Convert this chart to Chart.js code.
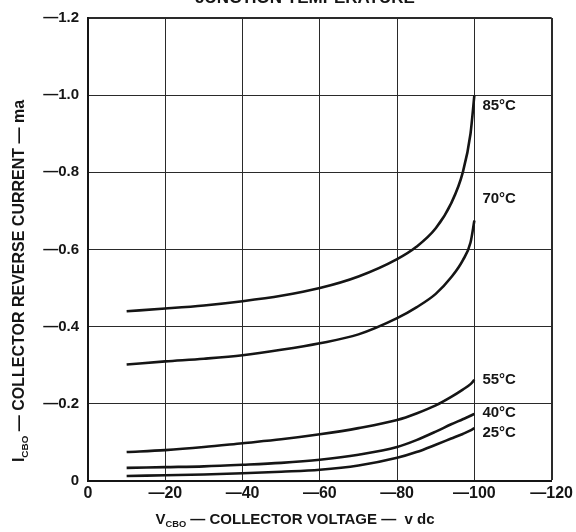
<!DOCTYPE html>
<html>
<head>
<meta charset="utf-8">
<script src="https://cdn.jsdelivr.net/npm/chart.js@4/dist/chart.umd.min.js"></script>
<style>
  html, body { margin: 0; padding: 0; background: #fff; }
  #wrap { width: 576px; height: 532px; }
</style>
</head>
<body>
<div id="wrap"><canvas id="chart" width="576" height="532"></canvas></div>
<script>
// collector voltage, v dc
const voltages = [-10, -20, -30, -40, -50, -60, -70, -80, -85, -90, -94, -97, -99, -100];

// collector reverse current, ma, one list per junction temperature
const temps = ['85°C', '70°C', '55°C', '40°C', '25°C'];
const icbo85 = [-0.44, -0.447, -0.455, -0.466, -0.48, -0.50, -0.53, -0.575, -0.607, -0.655, -0.72, -0.80, -0.90, -1.0];
const icbo70 = [-0.302, -0.31, -0.317, -0.326, -0.34, -0.357, -0.38, -0.422, -0.45, -0.485, -0.528, -0.572, -0.618, -0.675];
const icbo55 = [-0.075, -0.08, -0.088, -0.098, -0.108, -0.121, -0.137, -0.158, -0.175, -0.196, -0.218, -0.237, -0.251, -0.262];
const icbo40 = [-0.034, -0.036, -0.038, -0.042, -0.047, -0.055, -0.068, -0.088, -0.106, -0.128, -0.147, -0.16, -0.169, -0.174];
const icbo25 = [-0.013, -0.015, -0.017, -0.02, -0.024, -0.029, -0.04, -0.06, -0.075, -0.094, -0.11, -0.122, -0.131, -0.137];
const series = [icbo85, icbo70, icbo55, icbo40, icbo25];

// label nudges in px so the temperature tags sit where the original has them
const tagShift = [11, -22, 0, -1, 5];

const FONT = '"Liberation Sans", Arial, sans-serif';
const INK = '#151515';

// draws text with subscript pieces, centred on cx
function drawRich(ctx, parts, cx, baseline, size) {
  const widths = parts.map(p => {
    ctx.font = 'bold ' + (p.sub ? size * 0.62 : size) + 'px ' + FONT;
    return ctx.measureText(p.t).width;
  });
  let x = cx - widths.reduce((a, b) => a + b, 0) / 2;
  parts.forEach((p, i) => {
    ctx.font = 'bold ' + (p.sub ? size * 0.62 : size) + 'px ' + FONT;
    ctx.fillText(p.t, x, baseline + (p.sub ? size * 0.22 : 0));
    x += widths[i];
  });
}

const annotations = {
  id: 'annotations',
  afterDraw(chart) {
    const ctx = chart.ctx;
    ctx.save();
    ctx.fillStyle = INK;
    ctx.textBaseline = 'alphabetic';

    // title, cut off by the top edge in the scan
    ctx.font = 'bold 17px ' + FONT;
    ctx.textAlign = 'center';
    ctx.fillText('JUNCTION TEMPERATURE', 305, 3);
    ctx.textAlign = 'left';

    // x axis title
    drawRich(ctx, [
      { t: 'V' }, { t: 'CBO', sub: true }, { t: ' \u2014 COLLECTOR VOLTAGE \u2014  v dc' }
    ], 295, 524, 15);

    // y axis title
    ctx.save();
    ctx.translate(24, 281);
    ctx.rotate(-Math.PI / 2);
    drawRich(ctx, [
      { t: 'I' }, { t: 'CBO', sub: true }, { t: ' \u2014 COLLECTOR REVERSE CURRENT \u2014 ma' }
    ], 0, 0, 16);
    ctx.restore();

    // temperature tags at the end of each curve
    ctx.font = 'bold 15px ' + FONT;
    ctx.textBaseline = 'middle';
    chart.data.datasets.forEach((ds, i) => {
      const pts = chart.getDatasetMeta(i).data;
      const end = pts[pts.length - 1];
      ctx.fillText(temps[i], end.x + 8, end.y + tagShift[i]);
    });
    ctx.restore();
  }
};

const ctx = document.getElementById('chart').getContext('2d');
new Chart(ctx, {
  type: 'line',
  data: {
    labels: voltages,
    datasets: series.map((vals, i) => ({
      label: temps[i],
      data: vals.map((v, k) => ({ x: voltages[k], y: v })),
      borderColor: INK,
      borderWidth: 2.6,
      pointRadius: 0,
      fill: false,
      cubicInterpolationMode: 'monotone'
    }))
  },
  options: {
    responsive: false,
    animation: false,
    layout: { padding: { top: 17, right: 24, left: 0, bottom: 0 } },
    plugins: {
      legend: { display: false },
      tooltip: { enabled: false },
      title: { display: false }
    },
    scales: {
      x: {
        type: 'linear',
        min: -120,
        max: 0,
        reverse: true,
        afterFit: s => { s.height = 51; },
        border: { display: true, color: INK, width: 2 },
        grid: {
          color: '#2a2a2a',
          lineWidth: c => (c.tick && c.tick.value === -120 ? 2 : 1),
          drawTicks: false
        },
        ticks: {
          stepSize: 20,
          padding: 3,
          color: INK,
          font: { family: FONT, size: 16, weight: 'bold' },
          maxRotation: 0,
          callback: v => (v === 0 ? '0' : '\u2014' + Math.abs(v))
        }
      },
      y: {
        type: 'linear',
        min: -1.2,
        max: 0,
        reverse: true,
        afterFit: s => { s.width = 88; },
        border: { display: true, color: INK, width: 2 },
        grid: {
          color: '#2a2a2a',
          lineWidth: c => (c.tick && Math.abs(c.tick.value + 1.2) < 1e-6 ? 2 : 1),
          drawTicks: false
        },
        ticks: {
          stepSize: 0.2,
          padding: 9,
          color: INK,
          font: { family: FONT, size: 15, weight: 'bold' },
          callback: v => (Math.abs(v) < 1e-9 ? '0' : '\u2014' + Math.abs(v).toFixed(1))
        }
      }
    }
  },
  plugins: [annotations]
});
</script>
</body>
</html>
